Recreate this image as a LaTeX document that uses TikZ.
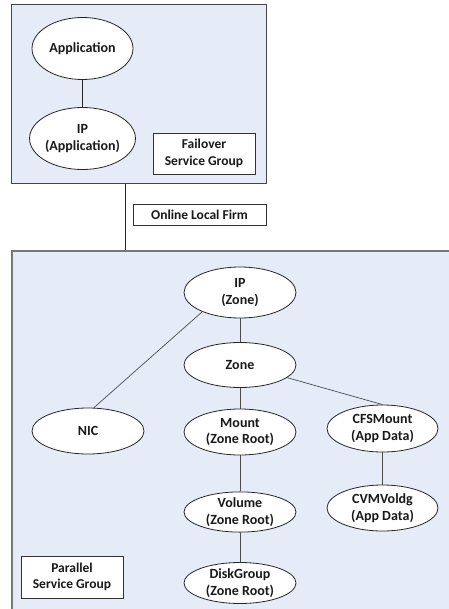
\documentclass[tikz,border=0pt]{standalone}
\usepackage{fontspec}
\setmainfont{Carlito}
\usetikzlibrary{shapes.geometric}
\definecolor{groupfill}{RGB}{230,236,247}
\definecolor{groupedge}{RGB}{70,70,70}
\definecolor{paredge}{RGB}{120,120,120}
\begin{document}
\begin{tikzpicture}[x=1pt,y=-1pt,
  txt/.style={align=center, text=black!90},
  res/.style={txt, font=\bfseries\fontsize{14}{16.5}\selectfont, ellipse, draw=black!85, fill=white, line width=0.8pt, inner sep=0pt},
  tag/.style={txt, font=\bfseries\fontsize{13.5}{16.5}\selectfont, rectangle, draw=black!80, fill=white, line width=0.8pt, inner sep=0pt},
  group/.style={rectangle, fill=groupfill, inner sep=0pt},
  link/.style={draw=black!85, line width=0.8pt},
  thinlink/.style={draw=black!70, line width=0.7pt}]
\useasboundingbox (0,0) rectangle (448,609);
\fill[white] (0,0) rectangle (448,609);

% service groups
\node[group, draw=groupedge, line width=1pt, minimum width=255pt, minimum height=179pt] (failover) at (138.5,94.5) {};
\node[group, draw=paredge, line width=1.3pt, minimum width=448pt, minimum height=369pt] (parallel) at (236,435.5) {};

% failover group resources
\node[res, minimum width=101pt, minimum height=62pt] (app) at (82.5,48.5) {Application};
\node[res, minimum width=101pt, minimum height=62pt] (ipapp) at (82.5,138.5) {IP\\(Application)};
\node[tag, minimum width=102pt, minimum height=41pt] (failtag) at (204,153.5) {Failover\\Service Group};
\draw[link] (app) -- (ipapp);

% dependency between the groups
\coordinate (tap) at (125,0);
\draw[link] (failover.south -| tap) -- (parallel.north -| tap);
\node[tag, minimum width=133pt, minimum height=21pt] (olf) at (199.5,214.5) {Online Local Firm};

% parallel group resources
\node[res, minimum width=112pt, minimum height=51pt] (ipzone) at (240,292.5) {IP\\(Zone)};
\node[res, minimum width=112pt, minimum height=45pt] (zone) at (240,365) {Zone};
\node[res, minimum width=112pt, minimum height=46pt] (nic) at (88,431) {NIC};
\node[res, minimum width=112pt, minimum height=46pt] (mount) at (240,432) {Mount\\(Zone Root)};
\node[res, minimum width=111pt, minimum height=47pt] (cfs) at (382.5,428.5) {CFSMount\\(App Data)};
\node[res, minimum width=112pt, minimum height=40pt] (volume) at (240,512) {Volume\\(Zone Root)};
\node[res, minimum width=111pt, minimum height=46pt] (cvm) at (382.5,508) {CVMVoldg\\(App Data)};
\node[res, minimum width=112pt, minimum height=41pt] (disk) at (240,583) {DiskGroup\\(Zone Root)};
\node[tag, minimum width=102pt, minimum height=42pt] (partag) at (72,577) {Parallel\\Service Group};

\draw[thinlink] (ipzone) -- (zone);
\draw[thinlink] (ipzone.207) -- (nic.76);
\draw[thinlink] (zone.345) -- (cfs.north);
\draw[thinlink] (zone) -- (mount);
\draw[thinlink] (mount) -- (volume);
\draw[thinlink] (volume) -- (disk);
\draw[thinlink] (cfs) -- (cvm);
\end{tikzpicture}
\end{document}
